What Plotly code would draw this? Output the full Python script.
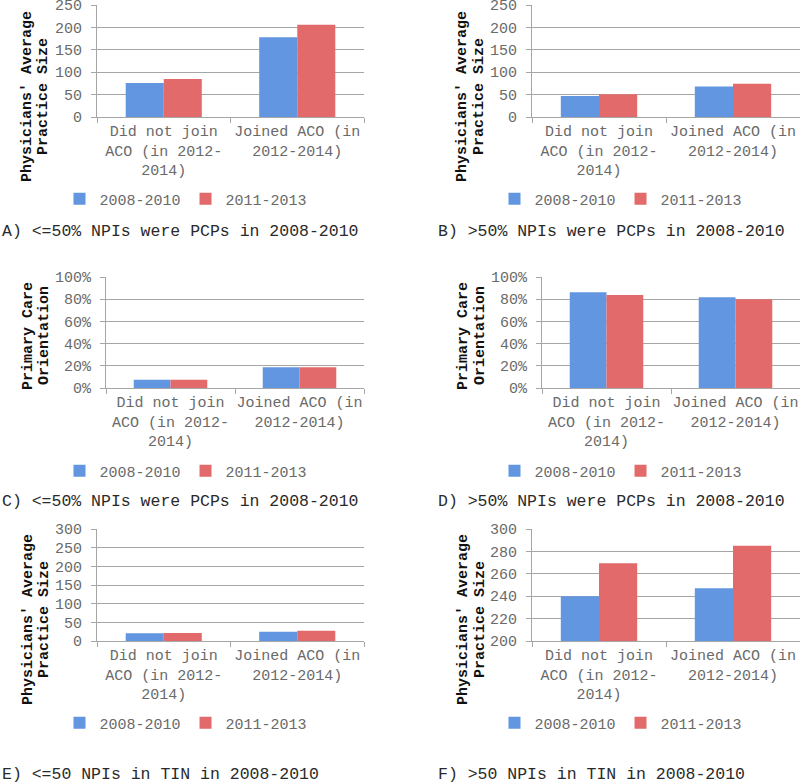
import plotly.graph_objects as go

W, H = 800, 782

categories = ["Did not join<br>ACO (in 2012-<br>2014)", "Joined ACO (in<br>2012-2014)"]
series_names = ["2008-2010", "2011-2013"]

a_2008 = [76, 178]
a_2011 = [85, 206]
b_2008 = [47, 68]
b_2011 = [51, 74]
c_2008 = [0.074, 0.187]
c_2011 = [0.075, 0.186]
d_2008 = [0.862, 0.817]
d_2011 = [0.838, 0.800]
e_2008 = [20.5, 25]
e_2011 = [21.5, 27.5]
f_2008 = [240, 247]
f_2011 = [269.5, 285]

captions = [
    "A) <=50% NPIs were PCPs in 2008-2010",
    "B) >50% NPIs were PCPs in 2008-2010",
    "C) <=50% NPIs were PCPs in 2008-2010",
    "D) >50% NPIs were PCPs in 2008-2010",
    "E) <=50 NPIs in TIN in 2008-2010",
    "F) >50 NPIs in TIN in 2008-2010",
]
ytitle_size = ["Physicians' Average", "Practice Size"]
ytitle_pco = ["Primary Care", "Orientation"]

FONT = "Liberation Mono, Courier New, monospace"
BLUE = "#6296e0"
RED = "#e36a6a"
GREY = "#6a6a6a"
GRID = "#a6a6a6"

def px_x(v):
    return v / W

def px_y(v):
    return 1 - v / H

panels = [
    dict(data=(a_2008, a_2011), xd=(97, 364), yd=(5, 117), rng=[0, 250], dtick=50, fmt=None,
         title=ytitle_size, tx=(28, 44), ty=97, leg=(186, 199), cap=(0, 231)),
    dict(data=(b_2008, b_2011), xd=(532, 800), yd=(5, 117), rng=[0, 250], dtick=50, fmt=None,
         title=ytitle_size, tx=(463, 480), ty=97, leg=(621, 199), cap=(436, 231)),
    dict(data=(c_2008, c_2011), xd=(106, 364), yd=(277, 388), rng=[0, 1], dtick=0.2, fmt=".0%",
         title=ytitle_pco, tx=(28, 44), ty=336, leg=(186, 471), cap=(0, 501)),
    dict(data=(d_2008, d_2011), xd=(542, 800), yd=(277, 388), rng=[0, 1], dtick=0.2, fmt=".0%",
         title=ytitle_pco, tx=(463, 480), ty=336, leg=(621, 471), cap=(436, 501)),
    dict(data=(e_2008, e_2011), xd=(97, 364), yd=(529, 641), rng=[0, 300], dtick=50, fmt=None,
         title=ytitle_size, tx=(28, 44), ty=620, leg=(186, 723), cap=(0, 774)),
    dict(data=(f_2008, f_2011), xd=(532, 800), yd=(529, 641), rng=[200, 300], dtick=20, fmt=None,
         title=ytitle_size, tx=(463, 480), ty=620, leg=(621, 723), cap=(436, 774)),
]

fig = go.Figure()
layout = dict(
    width=W, height=H,
    margin=dict(l=0, r=0, t=0, b=0, autoexpand=False),
    paper_bgcolor="white", plot_bgcolor="white",
    barmode="group", bargap=0.43, bargroupgap=0,
    font=dict(family=FONT, size=15, color=GREY),
    annotations=[],
)

for i, p in enumerate(panels):
    n = i + 1
    xa = "x" if n == 1 else f"x{n}"
    ya = "y" if n == 1 else f"y{n}"
    lg = "legend" if n == 1 else f"legend{n}"
    for vals, name, col in zip(p["data"], series_names, (BLUE, RED)):
        fig.add_trace(go.Bar(
            x=categories, y=vals, name=name, marker=dict(color=col, line=dict(width=0)),
            xaxis=xa, yaxis=ya, legend=lg, showlegend=True,
        ))
    xk = "xaxis" if n == 1 else f"xaxis{n}"
    yk = "yaxis" if n == 1 else f"yaxis{n}"
    layout[xk] = dict(
        domain=[px_x(p["xd"][0]), px_x(p["xd"][1])], anchor=ya, automargin=False,
        showline=True, linecolor=GRID, linewidth=1,
        ticks="outside", tickson="boundaries", ticklen=5, tickcolor=GRID,
        tickfont=dict(family=FONT, size=15, color=GREY), tickangle=0,
        ticklabeloverflow="allow", showgrid=False, fixedrange=True,
    )
    yax = dict(
        domain=[px_y(p["yd"][1]), px_y(p["yd"][0])], anchor=xa, automargin=False,
        range=p["rng"], dtick=p["dtick"], tick0=p["rng"][0],
        showline=True, linecolor=GRID, linewidth=1,
        ticks="outside", ticklen=5, tickcolor=GRID, ticklabelstandoff=6,
        ticklabeloverflow="allow",
        showgrid=True, gridcolor=GRID, gridwidth=1, zeroline=False,
        tickfont=dict(family=FONT, size=15, color=GREY), fixedrange=True,
    )
    if p["fmt"]:
        yax["tickformat"] = p["fmt"]
    layout[yk] = yax
    layout[lg] = dict(
        orientation="h", x=px_x(p["leg"][0]), y=px_y(p["leg"][1]),
        xanchor="center", yanchor="middle", xref="paper", yref="paper",
        font=dict(family=FONT, size=15, color=GREY), bgcolor="rgba(0,0,0,0)",
        itemwidth=30, tracegroupgap=0,
        itemclick=False, itemdoubleclick=False,
    )
    for line, tx in zip(p["title"], p["tx"]):
        layout["annotations"].append(dict(
            text=f"<b>{line}</b>", x=px_x(tx), y=px_y(p["ty"]), xref="paper", yref="paper",
            xanchor="center", yanchor="middle", textangle=-90, showarrow=False,
            font=dict(family=FONT, size=15, color="#111111"),
        ))
    layout["annotations"].append(dict(
        text=captions[i], x=px_x(p["cap"][0]), y=px_y(p["cap"][1]), xref="paper", yref="paper",
        xanchor="left", yanchor="middle", showarrow=False,
        font=dict(family=FONT, size=16.5, color="#2a2a2a"),
    ))

fig.update_layout(**layout)
fig.write_html("out.html", config={"displayModeBar": False},
               post_script="document.body.style.margin='0';")
